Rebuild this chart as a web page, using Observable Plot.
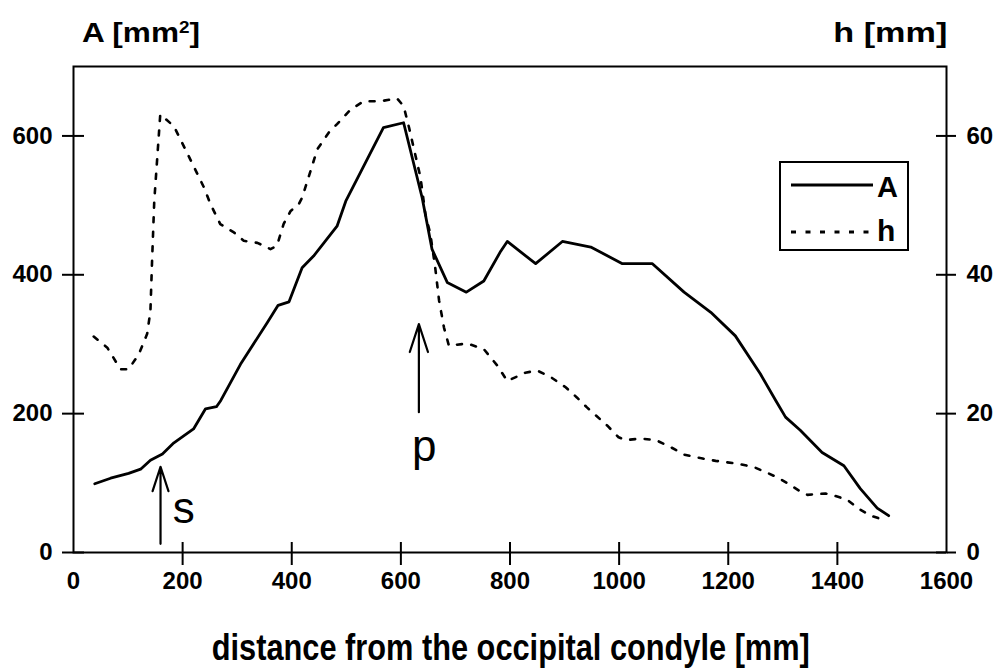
<!DOCTYPE html>
<html>
<head>
<meta charset="utf-8">
<script src="https://cdn.jsdelivr.net/npm/d3@7"></script>
<script src="https://cdn.jsdelivr.net/npm/@observablehq/plot@0.6"></script>
<style>
  html, body { margin: 0; padding: 0; background: #fff; }
  #wrap { position: relative; width: 997px; height: 669px; overflow: hidden; font-family: "Liberation Sans", Arial, sans-serif; font-weight: bold; color: #000; }
  #head { position: relative; height: 50px; }
  #foot { position: relative; height: 59px; }
  .t { position: absolute; white-space: nowrap; line-height: 1; }
  #chart svg { display: block; }
  #legend { position: absolute; left: 779px; top: 161px; width: 130px; height: 90px; border: 2px solid #000; box-sizing: border-box; background: #fff; }
  #legend svg { position: absolute; }
  sup { font-size: 0.6em; vertical-align: 0.55em; line-height: 0; }
</style>
</head>
<body>
<div id="wrap">
  <div id="head">
    <div class="t" id="ylab" data-w="118" data-left="82" data-base="43" style="font-size:28px">A [mm<sup>2</sup>]</div>
    <div class="t" id="hlab" data-w="114" data-right="947" data-base="43" style="font-size:28px">h [mm]</div>
  </div>
  <div id="chart"></div>
  <div id="foot">
    <div class="t" id="xlab" data-w="598" data-center="511" data-base="50" style="font-size:37px">distance from the occipital condyle [mm]</div>
  </div>
  <div id="legend">
    <svg width="90" height="10" style="left:9px;top:17px"><line x1="1" x2="83" y1="5" y2="5" stroke="#000" stroke-width="2.8"/></svg>
    <div class="t" id="legA" style="font-size:29px;left:96px;top:10px">A</div>
    <svg width="90" height="10" style="left:9px;top:64px"><line x1="1" x2="83" y1="5" y2="5" stroke="#000" stroke-width="2.8" stroke-dasharray="5,9.5"/></svg>
    <div class="t" id="legH" style="font-size:30px;left:96px;top:53px">h</div>
  </div>
</div>
<script>
// ---- data ----
// distance from the occipital condyle [mm] and cross-sectional area A [mm^2]
const aDist = [39, 68, 101, 123, 141, 163, 184, 220, 242, 262, 270, 306, 355, 375, 395, 419, 440, 483, 499, 568, 605, 639, 657, 685, 720, 752, 783, 795, 847, 896, 948, 1006, 1061, 1119, 1168, 1213, 1259, 1287, 1305, 1332, 1372, 1412, 1442, 1473, 1494];
const aVal  = [99, 107, 114, 120, 133, 142, 158, 178, 207, 210, 219, 271, 331, 356, 361, 410, 427, 470, 506, 612, 619, 511, 437, 389, 375, 391, 434, 448, 416, 448, 440, 416, 416, 375, 346, 312, 257, 219, 195, 176, 144, 125, 92, 64, 53];
// distance [mm] and height h [mm]
const hDist = [37, 62, 86, 101, 120, 135, 141, 144, 148, 159, 184, 211, 239, 251, 269, 294, 312, 337, 361, 373, 385, 398, 413, 419, 447, 468, 483, 508, 532, 563, 593, 605, 615, 636, 645, 654, 663, 670, 679, 688, 722, 752, 777, 795, 828, 850, 874, 902, 923, 941, 978, 999, 1012, 1039, 1067, 1094, 1119, 1149, 1177, 1216, 1247, 1265, 1293, 1308, 1332, 1345, 1378, 1394, 1418, 1439, 1461, 1485, 1491];
const hVal  = [31.1, 29.5, 26.4, 26.4, 28.6, 31.5, 34.8, 42, 50.6, 63.1, 61.4, 57.1, 52.6, 50.2, 47.3, 46.1, 44.9, 44.6, 43.7, 44.2, 47.3, 49.2, 50.2, 51.1, 58.1, 60.5, 61.7, 63.8, 65.0, 65.0, 65.4, 64.3, 61.2, 54.0, 48.7, 45.9, 41.0, 36.3, 32.4, 29.8, 30.1, 29.3, 26.9, 24.7, 25.9, 26.2, 25.3, 23.8, 22.3, 20.9, 18.3, 16.6, 16.2, 16.4, 16.2, 15.2, 14.1, 13.6, 13.2, 12.8, 12.3, 11.7, 10.7, 10.0, 8.8, 8.3, 8.5, 8.2, 7.6, 6.3, 5.3, 4.7, 4.7];
// tick labels
const xTickLabels = [0, 200, 400, 600, 800, 1000, 1200, 1400, 1600];
const xTickMarks = [200, 400, 600, 800, 1000, 1200, 1400];
const aTicks = [0, 200, 400, 600];
const hTicks = [0, 20, 40, 60];
// annotations: arrows (distance, tail A, tip A) and labels
const arrowName = ["s", "p"];
const arrowDist = [159.5, 633];
const arrowFrom = [12.5, 202];
const arrowTo = [123.5, 329];
const labelDist = [202, 643];
const labelA = [42, 132];

// ---- scales ----
const H_TO_A = 10; // right axis: h [mm] * 10 = A units
const W = 997, Ht = 560, mT = 16, mB = 58, mL = 73, mR = 51;
const xDom = [0, 1600], yDom = [0, 700];
const pxX = (xDom[1] - xDom[0]) / (W - mL - mR);
const pxY = (yDom[1] - yDom[0]) / (Ht - mT - mB);

const aData = aDist.map((d, i) => ({dist: d, A: aVal[i]}));
const hData = hDist.map((d, i) => ({dist: d, h: hVal[i]}));
const arrows = arrowName.map((n, i) => ({name: n, x: arrowDist[i], y1: arrowFrom[i], y2: arrowTo[i]}));
const labels = arrowName.map((n, i) => ({name: n, x: labelDist[i], y: labelA[i]}));

const plain = d => String(d);

const chart = Plot.plot({
  width: W, height: Ht,
  marginTop: mT, marginBottom: mB, marginLeft: mL, marginRight: mR,
  x: {domain: xDom},
  y: {domain: yDom},
  style: {fontFamily: "'Liberation Sans', Arial, sans-serif", fontSize: "24px", fontWeight: "bold", color: "#000", background: "#fff", overflow: "visible"},
  marks: [
    Plot.frame({stroke: "#000", strokeWidth: 2}),
    // x axis labels and crossing ticks
    Plot.axisX(xTickLabels, {anchor: "bottom", tickSize: 0, tickPadding: 19, tickFormat: plain, label: null}),
    Plot.ruleX(xTickMarks, {y1: -13 * pxY, y2: 10 * pxY, stroke: "#000", strokeWidth: 2}),
    // left axis (A)
    Plot.axisY(aTicks, {anchor: "left", tickSize: 11, tickPadding: 10, strokeWidth: 2, tickFormat: plain, label: null}),
    Plot.ruleY(aTicks, {x1: 0, x2: 11 * pxX, stroke: "#000", strokeWidth: 2}),
    // right axis (h)
    Plot.axisY(hTicks.map(v => v * H_TO_A), {anchor: "right", tickFormat: d => String(d / H_TO_A), tickSize: 9, tickPadding: 11, strokeWidth: 2, label: null}),
    Plot.ruleY(hTicks.map(v => v * H_TO_A), {x1: xDom[1] - 10 * pxX, x2: xDom[1], stroke: "#000", strokeWidth: 2}),
    // series
    Plot.line(hData, {x: "dist", y: d => d.h * H_TO_A, stroke: "#000", strokeWidth: 2.6, strokeDasharray: "5,9.5"}),
    Plot.line(aData, {x: "dist", y: "A", stroke: "#000", strokeWidth: 2.8, strokeLinejoin: "round"}),
    // annotations
    Plot.arrow(arrows, {x1: "x", y1: "y1", x2: "x", y2: "y2", stroke: "#000", strokeWidth: 2.2, headAngle: 36, headLength: 24}),
    Plot.text(labels, {x: "x", y: "y", text: "name", fontSize: 44, fontWeight: "normal", lineAnchor: "bottom", textAnchor: "middle", fill: "#000"})
  ]
});
document.getElementById("chart").appendChild(chart);

// fit header/footer text to measured widths & baselines
for (const el of document.querySelectorAll(".t[data-w]")) {
  const fs = parseFloat(el.style.fontSize);
  const w = el.getBoundingClientRect().width;
  const s = +el.dataset.w / w;
  const top = +el.dataset.base - 0.847 * fs;
  el.style.top = top + "px";
  if (el.dataset.left) { el.style.left = el.dataset.left + "px"; el.style.transformOrigin = "left"; }
  if (el.dataset.right) { el.style.left = (+el.dataset.right - w) + "px"; el.style.transformOrigin = "right"; }
  if (el.dataset.center) { el.style.left = (+el.dataset.center - w / 2) + "px"; el.style.transformOrigin = "center"; }
  el.style.transform = `scaleX(${s})`;
}
</script>
</body>
</html>
